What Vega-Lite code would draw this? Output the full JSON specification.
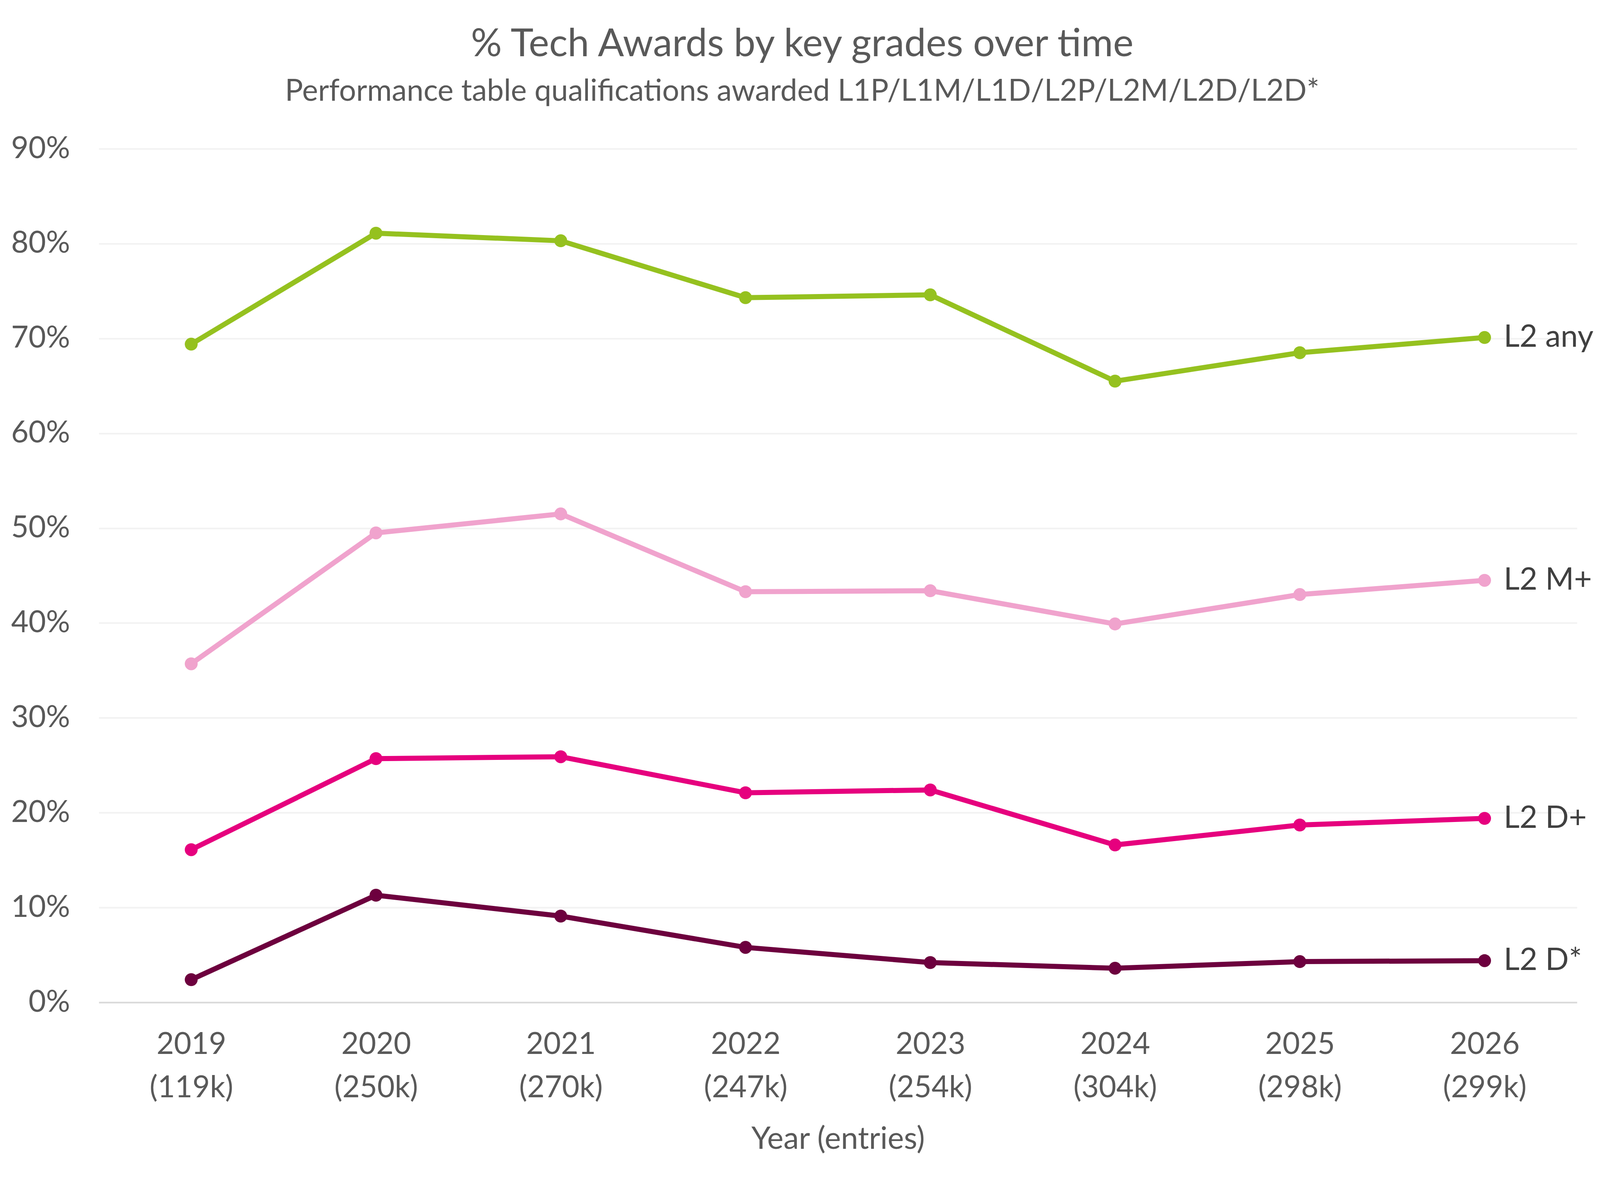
{
  "$schema": "https://vega.github.io/schema/vega-lite/v6.json",
  "width": 4098,
  "height": 3046,
  "autosize": {"type": "fit", "contains": "padding"},
  "padding": {"left": 27, "top": 65, "right": 38, "bottom": 89},
  "background": "white",
  "title": {
    "text": "% Tech Awards by key grades over time",
    "subtitle": "Performance table qualifications awarded L1P/L1M/L1D/L2P/L2M/L2D/L2D*",
    "anchor": "middle",
    "frame": "bounds",
    "font": "Lato",
    "fontSize": 99,
    "fontWeight": "normal",
    "color": "#595959",
    "subtitleFont": "Lato",
    "subtitleFontSize": 77,
    "subtitleColor": "#595959",
    "offset": 68,
    "subtitlePadding": 32
  },
  "data": {
    "values": [
      {"year": "2019 (119k)", "series": "L2 any", "pct": 0.694},
      {"year": "2020 (250k)", "series": "L2 any", "pct": 0.811},
      {"year": "2021 (270k)", "series": "L2 any", "pct": 0.803},
      {"year": "2022 (247k)", "series": "L2 any", "pct": 0.743},
      {"year": "2023 (254k)", "series": "L2 any", "pct": 0.746},
      {"year": "2024 (304k)", "series": "L2 any", "pct": 0.655},
      {"year": "2025 (298k)", "series": "L2 any", "pct": 0.685},
      {"year": "2026 (299k)", "series": "L2 any", "pct": 0.701},
      {"year": "2019 (119k)", "series": "L2 M+", "pct": 0.357},
      {"year": "2020 (250k)", "series": "L2 M+", "pct": 0.495},
      {"year": "2021 (270k)", "series": "L2 M+", "pct": 0.515},
      {"year": "2022 (247k)", "series": "L2 M+", "pct": 0.433},
      {"year": "2023 (254k)", "series": "L2 M+", "pct": 0.434},
      {"year": "2024 (304k)", "series": "L2 M+", "pct": 0.399},
      {"year": "2025 (298k)", "series": "L2 M+", "pct": 0.430},
      {"year": "2026 (299k)", "series": "L2 M+", "pct": 0.445},
      {"year": "2019 (119k)", "series": "L2 D+", "pct": 0.161},
      {"year": "2020 (250k)", "series": "L2 D+", "pct": 0.257},
      {"year": "2021 (270k)", "series": "L2 D+", "pct": 0.259},
      {"year": "2022 (247k)", "series": "L2 D+", "pct": 0.221},
      {"year": "2023 (254k)", "series": "L2 D+", "pct": 0.224},
      {"year": "2024 (304k)", "series": "L2 D+", "pct": 0.166},
      {"year": "2025 (298k)", "series": "L2 D+", "pct": 0.187},
      {"year": "2026 (299k)", "series": "L2 D+", "pct": 0.194},
      {"year": "2019 (119k)", "series": "L2 D*", "pct": 0.024},
      {"year": "2020 (250k)", "series": "L2 D*", "pct": 0.113},
      {"year": "2021 (270k)", "series": "L2 D*", "pct": 0.091},
      {"year": "2022 (247k)", "series": "L2 D*", "pct": 0.058},
      {"year": "2023 (254k)", "series": "L2 D*", "pct": 0.042},
      {"year": "2024 (304k)", "series": "L2 D*", "pct": 0.036},
      {"year": "2025 (298k)", "series": "L2 D*", "pct": 0.043},
      {"year": "2026 (299k)", "series": "L2 D*", "pct": 0.044}
    ]
  },
  "encoding": {
    "x": {
      "field": "year",
      "type": "ordinal",
      "scale": {"type": "point", "padding": 0.5},
      "axis": {
        "title": "Year (entries)",
        "labelAngle": 0,
        "labelExpr": "split(datum.label, ' ')",
        "labelLimit": 0,
        "labelLineHeight": 111,
        "labelPadding": 70,
        "ticks": false,
        "grid": false,
        "domain": true,
        "domainColor": "#d9d9d9",
        "domainWidth": 4,
        "titlePadding": 112
      }
    },
    "y": {
      "field": "pct",
      "type": "quantitative",
      "scale": {"domain": [0, 0.9]},
      "axis": {
        "title": null,
        "format": ".0%",
        "values": [0, 0.1, 0.2, 0.3, 0.4, 0.5, 0.6, 0.7, 0.8, 0.9],
        "domain": false,
        "ticks": false,
        "grid": true,
        "gridColor": "#f2f2f2",
        "gridWidth": 4,
        "labelPadding": 74
      }
    }
  },
  "layer": [
    {
      "mark": {"type": "line", "strokeWidth": 13},
      "encoding": {
        "color": {
          "field": "series",
          "type": "nominal",
          "scale": {
            "domain": ["L2 any", "L2 M+", "L2 D+", "L2 D*"],
            "range": ["#95c11f", "#f0a3cd", "#e6007e", "#6d003e"]
          },
          "legend": null
        }
      }
    },
    {
      "mark": {"type": "point", "filled": true, "opacity": 1, "size": 1090},
      "encoding": {
        "color": {"field": "series", "type": "nominal", "legend": null}
      }
    },
    {
      "transform": [{"filter": "datum.year == '2026 (299k)'"}],
      "mark": {
        "type": "text",
        "align": "left",
        "baseline": "middle",
        "dx": 49,
        "font": "Lato",
        "fontSize": 79,
        "color": "#404040"
      },
      "encoding": {
        "text": {"field": "series"}
      }
    }
  ],
  "config": {
    "view": {"stroke": null},
    "axis": {
      "labelFont": "Lato",
      "labelFontSize": 77,
      "labelColor": "#595959",
      "titleFont": "Lato",
      "titleFontSize": 79,
      "titleFontWeight": "normal",
      "titleColor": "#595959"
    }
  }
}
